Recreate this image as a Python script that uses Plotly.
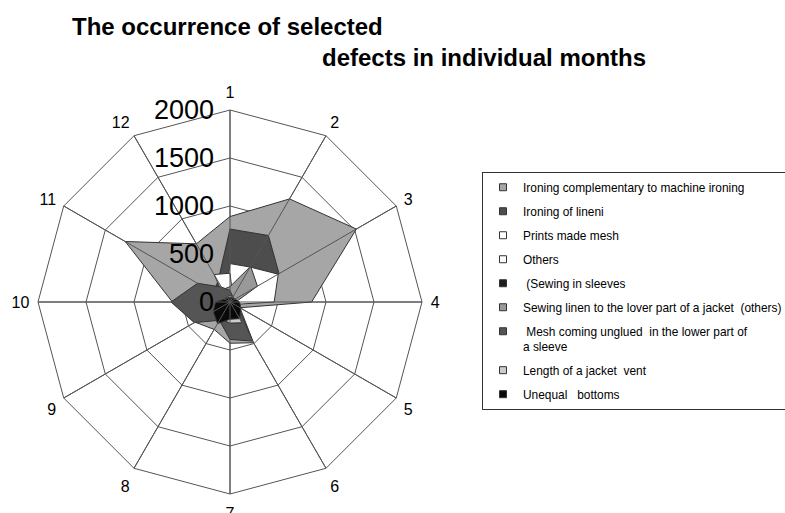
import plotly.graph_objects as go

months = ["1", "2", "3", "4", "5", "6", "7", "8", "9", "10", "11", "12"]

names = [
    "Ironing complementary to machine ironing",
    "Ironing of lineni",
    "Prints made mesh",
    "Others",
    "\u00a0(Sewing in sleeves",
    "Sewing linen to the lover part of a jacket\u00a0\u00a0(others)",
    "\u00a0Mesh coming unglued\u00a0 in the lower part of<br>a sleeve",
    "Length of a jacket\u00a0\u00a0vent",
    "Unequal\u00a0\u00a0\u00a0bottoms",
]

ironing_complementary = [890, 1240, 1520, 850, 120, 490, 430, 330, 420, 600, 1260, 700]
ironing_lineni = [760, 800, 590, 150, 60, 80, 100, 80, 100, 150, 200, 250]
prints_mesh = [400, 420, 580, 460, 50, 40, 40, 40, 60, 60, 60, 80]
others = [300, 60, 80, 60, 40, 60, 60, 60, 40, 40, 60, 330]
sewing_sleeves = [60, 50, 50, 60, 70, 90, 100, 110, 90, 70, 50, 50]
sewing_linen = [160, 430, 330, 60, 60, 120, 160, 150, 130, 160, 130, 150]
mesh_unglued = [120, 60, 50, 60, 100, 470, 390, 220, 430, 615, 390, 180]
jacket_vent = [70, 60, 50, 60, 80, 250, 220, 200, 150, 90, 60, 60]
unequal_bottoms = [50, 50, 60, 100, 130, 200, 180, 260, 200, 150, 60, 50]

series = [ironing_complementary, ironing_lineni, prints_mesh, others, sewing_sleeves,
          sewing_linen, mesh_unglued, jacket_vent, unequal_bottoms]
colors = ["#a6a6a6", "#4d4d4d", "#ffffff", "#fbfbfb", "#1e1e1e",
          "#999999", "#555555", "#cccccc", "#0a0a0a"]

radial_ticks = [0, 500, 1000, 1500, 2000]
R_MAX = 2000

fig = go.Figure()

for vals, col in zip(series, colors):
    fig.add_trace(go.Scatterpolar(
        r=vals + [vals[0]], theta=months + [months[0]],
        mode="lines", fill="toself", fillcolor=col,
        line=dict(color="#333333", width=1),
        showlegend=False, hoverinfo="skip"))

# spokes drawn above the filled areas
sr, st = [], []
for m in months:
    sr += [0, R_MAX, None]
    st += [m, m, m]
fig.add_trace(go.Scatterpolar(r=sr, theta=st, mode="lines",
                              line=dict(color="#555555", width=1),
                              showlegend=False, hoverinfo="skip", connectgaps=False))

# legend entries
for i, (nm, col) in enumerate(zip(names, colors)):
    fig.add_trace(go.Scatterpolar(
        r=[None], theta=[months[0]], mode="markers", name=nm,
        legendgroup=f"g{i}",
        marker=dict(symbol="square", size=7, color=col,
                    line=dict(color="#333333", width=1))))

W, H = 785, 513
cx, cy, rad = 230, 302, 192

fig.update_layout(
    width=W, height=H,
    margin=dict(l=0, r=0, t=0, b=0, autoexpand=False),
    paper_bgcolor="white",
    font=dict(family="Liberation Sans, Arial, sans-serif", color="black"),
    polar=dict(
        domain=dict(x=[(cx - rad) / W, (cx + rad) / W],
                    y=[(H - cy - rad) / H, (H - cy + rad) / H]),
        gridshape="linear",
        bgcolor="white",
        angularaxis=dict(type="category", categoryarray=months, rotation=90,
                         direction="clockwise", showgrid=True, gridcolor="#555555",
                         gridwidth=1, showline=True, linecolor="#555555", linewidth=1,
                         ticks="outside", ticklen=5, tickcolor="rgba(0,0,0,0)",
                         tickfont=dict(size=16, color="black")),
        radialaxis=dict(range=[0, R_MAX], tickvals=radial_ticks, showline=False,
                        showgrid=True, gridcolor="#555555", gridwidth=1,
                        angle=90, side="counterclockwise", tickangle=90,
                        ticks="outside", ticklen=6, tickcolor="rgba(0,0,0,0)",
                        tickfont=dict(size=27, color="black")),
    ),
    legend=dict(x=482 / W, y=1 - 172 / H, xanchor="left", yanchor="top",
                bordercolor="#333333", borderwidth=1, bgcolor="white",
                font=dict(size=11.9, color="black"), tracegroupgap=5,
                valign="top", itemsizing="trace"),
    annotations=[
        dict(text="<b>The occurrence of selected</b>", xref="paper", yref="paper",
             x=70 / W, y=1 - 27 / H, xanchor="left", yanchor="middle",
             showarrow=False, font=dict(size=24, color="black")),
        dict(text="<b>defects in individual months</b>", xref="paper", yref="paper",
             x=320 / W, y=1 - 57 / H, xanchor="left", yanchor="middle",
             showarrow=False, font=dict(size=24, color="black")),
    ],
)

fig.write_html("out.html")
